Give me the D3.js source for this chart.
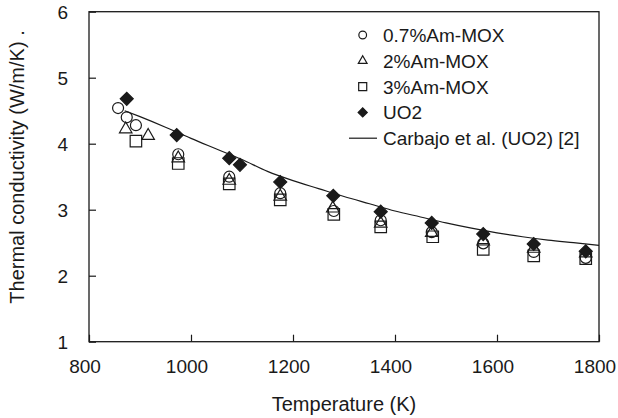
<!DOCTYPE html>
<html><head><meta charset="utf-8">
<script src="https://cdn.jsdelivr.net/npm/d3@7/dist/d3.min.js"></script>
<style>body{margin:0;background:#fff}svg text{font-family:"Liberation Sans",Arial,sans-serif;fill:#1a1a1a}</style>
</head><body><svg id="c" width="618" height="418"></svg>
<script>
const xTicks = [800, 1000, 1200, 1400, 1600, 1800];
const yTicks = [1, 2, 3, 4, 5, 6];
const seriesNames = ["0.7%Am-MOX", "2%Am-MOX", "3%Am-MOX", "UO2", "Carbajo et al. (UO2) [2]"];
const am07 = [[857,4.54],[874,4.40],[892,4.28],[975,3.84],[1075,3.50],[1175,3.25],[1280,2.98],[1372,2.84],[1472,2.66],[1573,2.49],[1672,2.36],[1774,2.27]];
const am2 = [[872,4.22],[916,4.12],[975,3.78],[1075,3.44],[1175,3.20],[1278,3.02],[1372,2.79],[1472,2.65],[1573,2.52],[1672,2.41],[1774,2.34]];
const am3 = [[892,4.04],[975,3.70],[1075,3.39],[1175,3.15],[1280,2.93],[1372,2.74],[1474,2.59],[1573,2.40],[1672,2.30],[1774,2.26]];
const uo2 = [[874,4.68],[972,4.13],[1075,3.78],[1096,3.68],[1175,3.42],[1279,3.21],[1372,2.97],[1472,2.80],[1573,2.63],[1672,2.48],[1774,2.37]];
const carbajo = [[870,4.50],[900,4.41],[950,4.25],[1000,4.08],[1050,3.92],[1100,3.76],[1150,3.58],[1200,3.44],[1250,3.32],[1300,3.20],[1350,3.09],[1400,2.98],[1450,2.89],[1500,2.80],[1550,2.72],[1600,2.65],[1650,2.59],[1700,2.54],[1750,2.50],[1800,2.46]];

const svg = d3.select("#c");
const L = 89, R = 599, T = 11.7, B = 341.7;
const x = d3.scaleLinear().domain([800, 1800]).range([L, R]);
const y = d3.scaleLinear().domain([1, 6]).range([B, T]);
const ink = "#1a1a1a";

// axes with inward ticks
const gx = svg.append("g").attr("transform", `translate(0,${B})`)
  .call(d3.axisTop(x).tickValues(xTicks).tickSize(7).tickFormat(""));
const gy = svg.append("g").attr("transform", `translate(${L},0)`)
  .call(d3.axisRight(y).tickValues(yTicks).tickSize(7).tickFormat(""));
[gx, gy].forEach(g => { g.select(".domain").remove(); g.selectAll("line").attr("stroke", ink).attr("stroke-width", 1.2); });
svg.append("rect").attr("x", L).attr("y", T).attr("width", R - L).attr("height", B - T)
  .attr("fill", "none").attr("stroke", ink).attr("stroke-width", 1.3);

// tick labels
svg.append("g").selectAll("text").data(xTicks).join("text")
  .attr("x", d => x(d) - 4).attr("y", 373).attr("text-anchor", "middle")
  .attr("font-size", 19).text(d => d);
svg.append("g").selectAll("text").data(yTicks).join("text")
  .attr("x", 68).attr("y", d => y(d) + 7).attr("text-anchor", "end")
  .attr("font-size", 19).text(d => d);

// titles
svg.append("text").attr("x", (L + R) / 2).attr("y", 411).attr("text-anchor", "middle")
  .attr("font-size", 20).text("Temperature (K)");
svg.append("text").attr("transform", `translate(24,167) rotate(-90)`).attr("text-anchor", "middle")
  .attr("font-size", 20).text("Thermal conductivity (W/m/K) .");

// line
svg.append("path").datum(carbajo)
  .attr("d", d3.line().x(d => x(d[0])).y(d => y(d[1])).curve(d3.curveMonotoneX))
  .attr("fill", "none").attr("stroke", ink).attr("stroke-width", 1.2);

const shapes = {
  circle: s => d3.symbol(d3.symbolCircle, Math.PI * s * s / 4)(),
  triangle: s => d3.symbol(d3.symbolTriangle, Math.sqrt(3) / 4 * s * s)(),
  square: s => d3.symbol(d3.symbolSquare, s * s)(),
  diamond: s => d3.symbol(d3.symbolSquare, s * s / 2)()
};
const defs = [
  {data: am07, shape: "circle", size: 11, fill: "none", rot: 0},
  {data: am2, shape: "triangle", size: 12.5, fill: "none", rot: 0},
  {data: am3, shape: "square", size: 11.5, fill: "none", rot: 0},
  {data: uo2, shape: "diamond", size: 13, fill: ink, rot: 45}
];
defs.forEach(s => {
  svg.append("g").selectAll("path").data(s.data).join("path")
    .attr("d", shapes[s.shape](s.size))
    .attr("transform", d => `translate(${x(d[0])},${y(d[1])}) rotate(${s.rot})`)
    .attr("fill", s.fill).attr("stroke", ink).attr("stroke-width", 1.2);
});

// legend
const lg = svg.append("g");
const ly0 = 35, ldy = 25.8, lsx = 362.7, ltx = 383;
defs.forEach((s, i) => {
  lg.append("path").attr("d", shapes[s.shape](s.size * 0.7))
    .attr("transform", `translate(${lsx},${ly0 + i * ldy}) rotate(${s.rot})`)
    .attr("fill", s.fill).attr("stroke", ink).attr("stroke-width", 1.2);
});
lg.append("line").attr("x1", 349).attr("x2", 377).attr("y1", ly0 + 4 * ldy).attr("y2", ly0 + 4 * ldy)
  .attr("stroke", ink).attr("stroke-width", 1.2);
lg.selectAll("text").data(seriesNames).join("text")
  .attr("x", ltx).attr("y", (d, i) => ly0 + i * ldy + 7).attr("font-size", 19).text(d => d);
</script></body></html>
